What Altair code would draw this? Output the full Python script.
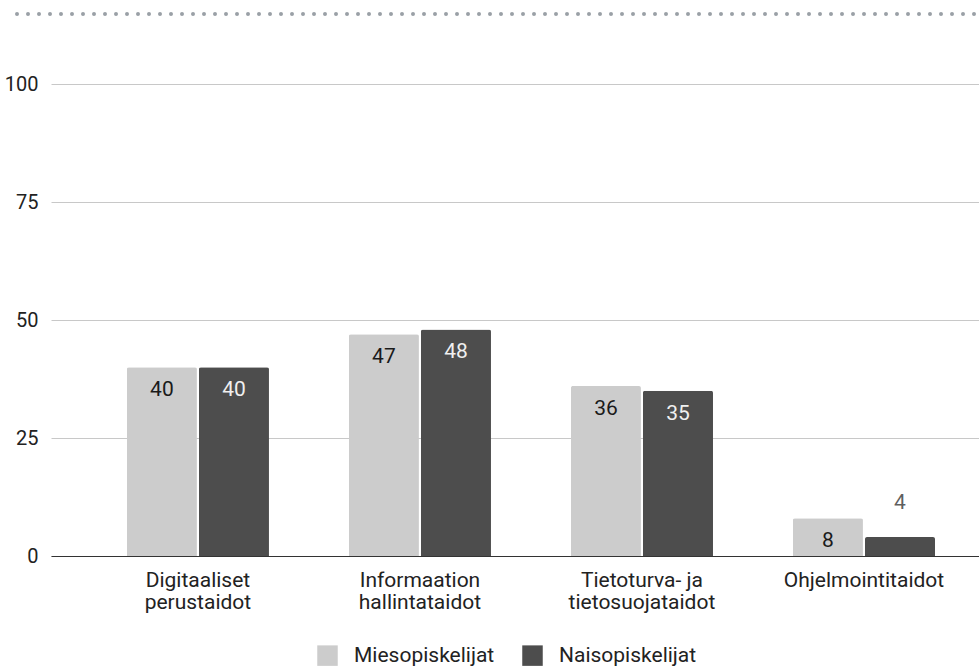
import altair as alt
import pandas as pd

# Digital skills by student group (%)
categories = [
    "Digitaaliset perustaidot",
    "Informaation hallintataidot",
    "Tietoturva- ja tietosuojataidot",
    "Ohjelmointitaidot",
]
series = ["Miesopiskelijat", "Naisopiskelijat"]
mies = [40, 47, 36, 8]
nais = [40, 48, 35, 4]
y_ticks = [0, 25, 50, 75, 100]

rows = []
for c, m, n in zip(categories, mies, nais):
    rows.append({"taito": c, "ryhma": series[0], "osuus": m})
    rows.append({"taito": c, "ryhma": series[1], "osuus": n})
df = pd.DataFrame(rows)

FONT = "Roboto"
W, H = 928, 472
FS = 21

# split multi-word labels onto two lines at the last space
label_expr = (
    "indexof(datum.label, ' ') < 0 ? datum.label : "
    "[substring(datum.label, 0, lastindexof(datum.label, ' ')), "
    "substring(datum.label, lastindexof(datum.label, ' ') + 1)]"
)

x_enc = alt.X(
    "taito:N",
    sort=categories,
    scale=alt.Scale(paddingInner=0.36, paddingOuter=0.27, align=0.633),
    axis=alt.Axis(
        title=None, labelAngle=0, labelExpr=label_expr, labelFont=FONT,
        labelFontSize=FS, labelColor="#222222", labelPadding=13,
        labelLineHeight=22, labelBaseline="top", labelOverlap=False,
        labelLimit=400, domainColor="#333333", domainWidth=1, ticks=False,
        zindex=1,
    ),
)
xoff = alt.XOffset("ryhma:N", sort=series,
                   scale=alt.Scale(paddingInner=0.028, paddingOuter=0))
y_enc = alt.Y(
    "osuus:Q",
    scale=alt.Scale(domain=[0, 100], nice=False),
    axis=alt.Axis(
        title=None, values=y_ticks, grid=True, gridColor="#c8c8c8",
        domain=False, ticks=False, labelFont=FONT, labelFontSize=20,
        labelColor="#222222", labelPadding=13,
    ),
)

base = alt.Chart(df)

bars = base.mark_bar(cornerRadiusTopLeft=2, cornerRadiusTopRight=2).encode(
    x=x_enc,
    xOffset=xoff,
    y=y_enc,
    color=alt.Color(
        "ryhma:N", sort=series,
        scale=alt.Scale(domain=series, range=["#cccccc", "#4d4d4d"]),
        legend=alt.Legend(
            title=None, orient="none", legendX=266, legendY=561,
            direction="horizontal", symbolType="square", symbolSize=420,
            symbolStrokeWidth=0, symbolOpacity=1, labelFont=FONT,
            labelFontSize=FS, labelColor="#222222", labelOffset=16,
            columnPadding=27, padding=0,
        ),
    ),
)

inside = base.mark_text(baseline="middle", dy=23, fontSize=FS, font=FONT).encode(
    x=alt.X("taito:N", sort=categories),
    xOffset=alt.XOffset("ryhma:N", sort=series),
    y="osuus:Q",
    text="osuus:Q",
    color=alt.condition(alt.datum.ryhma == series[1],
                        alt.value("#f0f0f0"), alt.value("#1a1a1a")),
).transform_filter(alt.datum.osuus >= 6)

outside = base.mark_text(baseline="middle", dy=-34, fontSize=FS, font=FONT,
                         color="#5f5f5f").encode(
    x=alt.X("taito:N", sort=categories),
    xOffset=alt.XOffset("ryhma:N", sort=series),
    y="osuus:Q",
    text="osuus:Q",
).transform_filter(alt.datum.osuus < 6)

# dotted separator line above the plot
dots = alt.Chart(pd.DataFrame({"k": [0]})).mark_rule(
    strokeDash=[0, 11], strokeCap="round", strokeWidth=4, color="#9aa0a6"
).encode(x=alt.value(-34), x2=alt.value(W), y=alt.value(-70))

chart = alt.layer(bars, inside, outside, dots).properties(
    width=W, height=H,
    autosize=alt.AutoSizeParams(type="none"),
    padding={"left": 51, "top": 84, "right": 0, "bottom": 113},
    background="white",
).configure_view(stroke=None)

chart.save("out.html", embed_options={"renderer": "svg", "actions": False})
